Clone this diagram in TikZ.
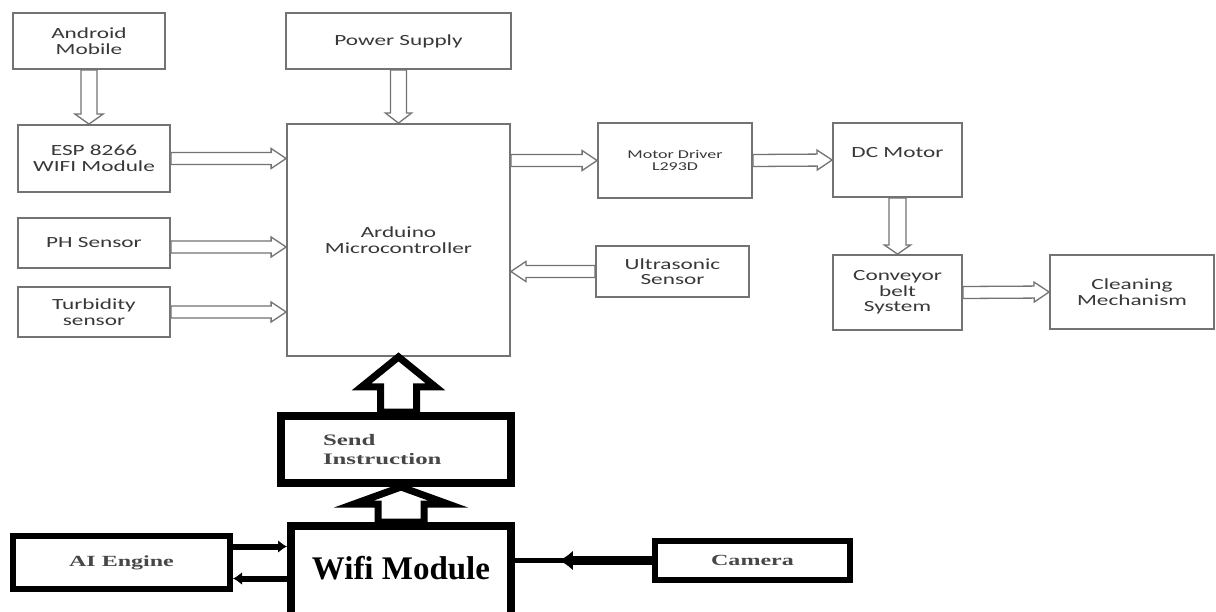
\documentclass[tikz,border=0pt]{standalone}
\usepackage{fontspec}
\usetikzlibrary{calc,arrows.meta}
\newfontfamily\topfont[FakeStretch=1.5]{Carlito}
\newfontfamily\botfont[FakeStretch=1.55]{Liberation Serif}
\newfontfamily\bigfont{Liberation Serif}

% #1 style, #2 from, #3 to, #4 half shaft, #5 half head, #6 head length
\newcommand\blockarrow[6][hollow]{%
  \draw[#1] let \p1=(#2), \p2=(#3),
    \n1={veclen(\x2-\x1,\y2-\y1)},
    \n2={(\x2-\x1)/\n1}, \n3={(\y2-\y1)/\n1} in
    ({\x1-#4*(\n3)},{\y1+#4*(\n2)})
    -- ({\x2-#6*(\n2)-#4*(\n3)},{\y2-#6*(\n3)+#4*(\n2)})
    -- ({\x2-#6*(\n2)-#5*(\n3)},{\y2-#6*(\n3)+#5*(\n2)})
    -- (\x2,\y2)
    -- ({\x2-#6*(\n2)+#5*(\n3)},{\y2-#6*(\n3)-#5*(\n2)})
    -- ({\x2-#6*(\n2)+#4*(\n3)},{\y2-#6*(\n3)-#4*(\n2)})
    -- ({\x1+#4*(\n3)},{\y1-#4*(\n2)}) -- cycle;}

\tikzset{
  tbox/.style={draw=black!55, line width=1.8pt, fill=white, inner sep=0pt,
    align=center, text=black!78, font=\topfont\fontsize{15.5}{15.5}\selectfont},
  bbox/.style={draw=black, line width=#1, fill=white, inner sep=0pt, align=center},
  hollow/.style={draw=black!55, line width=1.3pt, fill=white, line join=miter},
  fat/.style={draw=black, line width=7pt, fill=white, line join=miter, miter limit=10},
  conn/.style={line width=6pt, draw=black},
}

\begin{document}
\begin{tikzpicture}[x=1pt,y=-1pt]
\useasboundingbox (0,0) rectangle (1216,612);
\clip (0,0) rectangle (1216,612);
\fill[white] (0,0) rectangle (1216,612);

% top blocks
\node[tbox, minimum width=152pt, minimum height=56pt] (android) at (89,41) {Android\\Mobile};
\node[tbox, minimum width=225pt, minimum height=56pt] (power) at (398.5,41) {Power Supply};
\node[tbox, minimum width=152pt, minimum height=67pt] (esp) at (94,158.5) {ESP 8266\\WIFI Module};
\node[tbox, minimum width=152pt, minimum height=50pt] (ph) at (94,243) {PH Sensor};
\node[tbox, minimum width=152pt, minimum height=50pt] (turb) at (94,312) {Turbidity\\sensor};
\node[tbox, minimum width=223pt, minimum height=232pt] (ard) at (398.5,240) {Arduino\\Microcontroller};
\node[tbox, minimum width=154pt, minimum height=75pt, font=\topfont\fontsize{12}{12.5}\selectfont] (motor) at (675,160.5) {Motor Driver\\L293D};
\node[tbox, minimum width=153pt, minimum height=51pt] (us) at (672.5,271.5) {Ultrasonic\\Sensor};
\node[tbox, minimum width=129pt, minimum height=74pt] (dc) at (897.5,160) {DC Motor\\{}};
\node[tbox, minimum width=129pt, minimum height=75pt] (conv) at (897.5,292.5) {Conveyor\\belt\\System};
\node[tbox, minimum width=164pt, minimum height=74pt] (clean) at (1132,292) {Cleaning\\Mechanism};

% hollow block arrows
\blockarrow{android.south}{android.south |- esp.north}{8}{14}{10}
\blockarrow{power.south}{ard.north}{8}{13}{10}
\blockarrow{esp.east}{esp.east -| ard.west}{6}{10}{15}
\blockarrow{[yshift=-4pt]ph.east}{[yshift=-4pt]ph.east -| ard.west}{6}{10}{15}
\blockarrow{turb.east}{turb.east -| ard.west}{6}{10}{15}
\blockarrow{motor.west -| ard.east}{motor.west}{6}{10}{15}
\blockarrow{us.west}{us.west -| ard.east}{6}{10}{15}
\blockarrow{motor.east}{dc.west}{6}{10}{15}
\blockarrow{dc.south}{conv.north}{8.5}{13}{9}
\blockarrow{conv.east}{clean.west}{6}{10}{15}

% bottom blocks
\node[bbox=8pt, minimum width=230pt, minimum height=67pt, text=black!72,
  font=\botfont\bfseries\fontsize{16}{19}\selectfont, align=left, text width=146pt] (send) at (396,449.5) {Send\\Instruction};
\node[bbox=8pt, minimum width=220pt, minimum height=94pt,
  font=\bigfont\bfseries\fontsize{33}{36}\selectfont] (wifi) at (401,573) {\raisebox{5pt}[\height][\depth]{Wifi Module}};
\node[bbox=6pt, minimum width=217pt, minimum height=53pt, text=black!72,
  font=\botfont\bfseries\fontsize{15.5}{18}\selectfont] (ai) at (121.5,562.5) {AI Engine};
\node[bbox=6pt, minimum width=195pt, minimum height=39pt, text=black!72,
  font=\botfont\bfseries\fontsize{15.5}{18}\selectfont] (cam) at (752.5,560.5) {Camera};

% fat arrows
\blockarrow[fat]{ard.south |- send.north}{ard.south}{18}{37}{30}
\blockarrow[fat]{wifi.north}{wifi.north |- send.south}{23}{47}{17}

% AI <-> Wifi
\draw[conn, -{Latex[length=9pt,width=13pt]}] ([yshift=16pt]ai.east) -- ([yshift=16pt]ai.east -| wifi.west);
\draw[conn, -{Latex[length=9pt,width=13pt]}] ([yshift=-16pt]ai.east -| wifi.west) -- ([yshift=-16pt]ai.east);

% Camera -> Wifi
\draw[line width=5pt] (wifi.east |- cam.west) -- (cam.west);
\draw[line width=9pt, -{Latex[length=14pt,width=20pt]}] (cam.west) -- ($(cam.west)!0.68!(wifi.east |- cam.west)$);
\end{tikzpicture}
\end{document}
